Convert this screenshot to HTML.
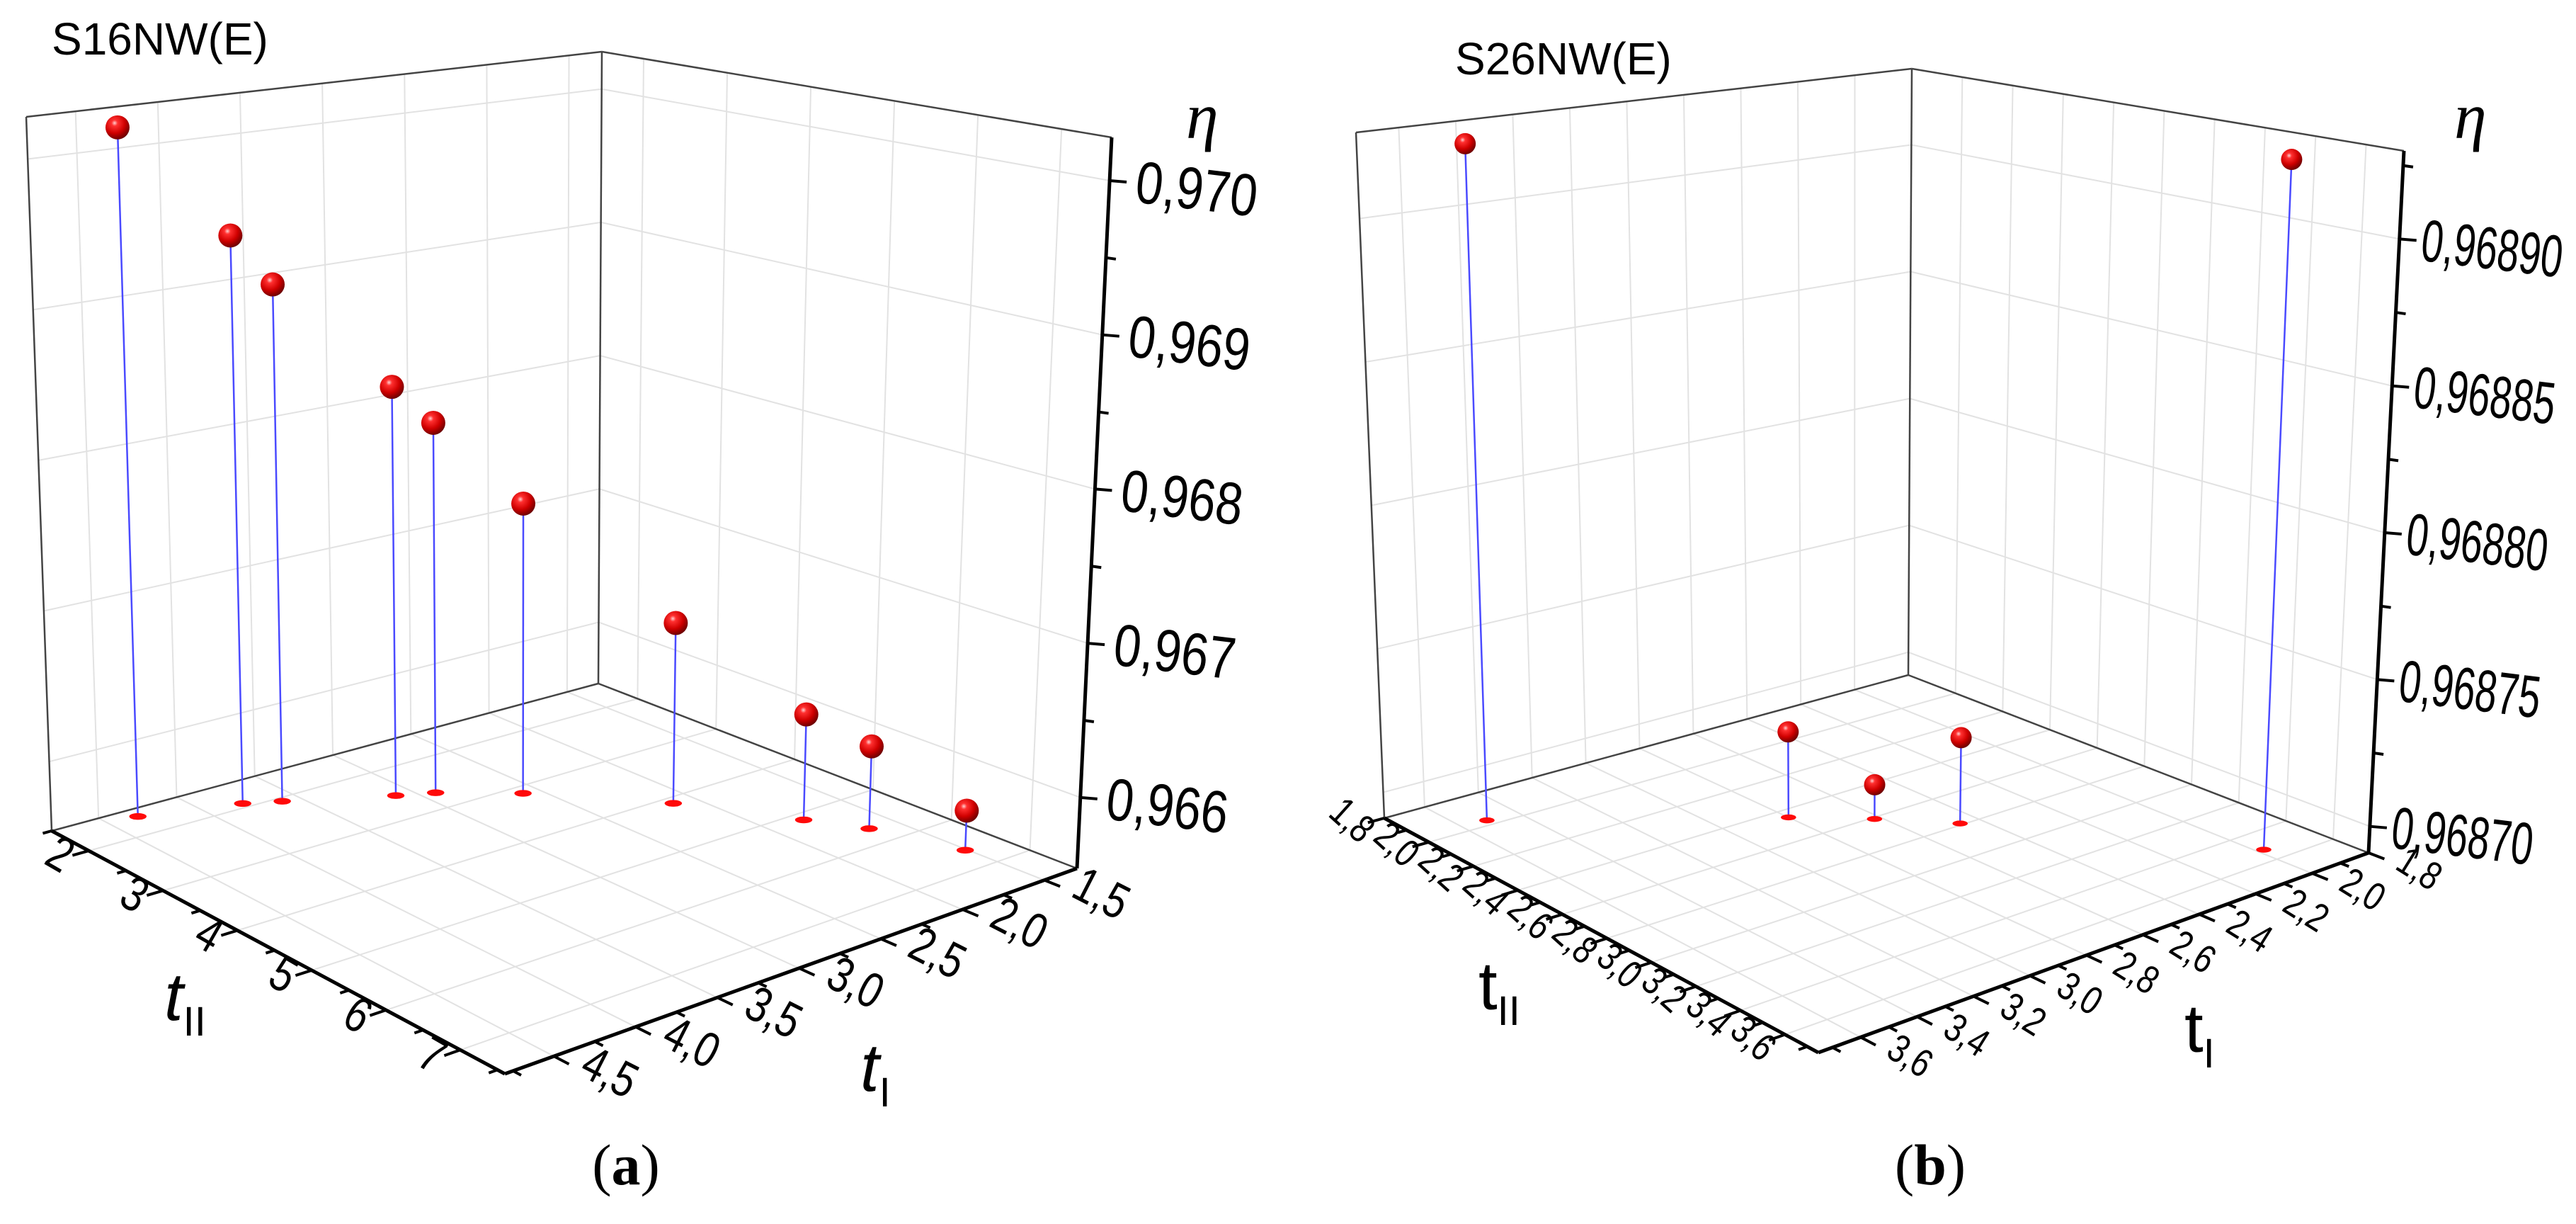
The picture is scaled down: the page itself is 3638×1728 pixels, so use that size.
<!DOCTYPE html>
<html><head><meta charset="utf-8"><style>
html,body{margin:0;padding:0;background:#fff;}
svg{display:block;}
text{font-family:"Liberation Sans",sans-serif;fill:#000;}
</style></head><body>
<svg id="fig" width="3638" height="1728" viewBox="0 0 3638 1728" xmlns="http://www.w3.org/2000/svg">
<defs>
<radialGradient id="ball" cx="0.38" cy="0.32" r="0.7">
<stop offset="0" stop-color="#ffd0d0"/><stop offset="0.18" stop-color="#ff3030"/><stop offset="0.6" stop-color="#d00000"/><stop offset="1" stop-color="#6a0000"/>
</radialGradient>
</defs>
<g id="chartA"></g>
<g id="chartB"></g>
<text x="73" y="77" font-size="64">S16NW(E)</text>
<text x="2055" y="105" font-size="64">S26NW(E)</text>
<text x="1675" y="195" font-size="92" font-style="italic" style="font-family:'Liberation Serif',serif">η</text>
<text x="3466" y="195" font-size="92" font-style="italic" style="font-family:'Liberation Serif',serif">η</text>
<text x="232" y="1440" font-size="96" font-style="italic">t<tspan font-size="58" font-style="normal" dy="22">II</tspan></text>
<text x="1215" y="1540" font-size="96" font-style="italic">t<tspan font-size="58" font-style="normal" dy="22">I</tspan></text>
<text x="2088" y="1425" font-size="96">t<tspan font-size="58" dy="22">II</tspan></text>
<text x="3085" y="1485" font-size="96">t<tspan font-size="58" dy="22">I</tspan></text>
<text x="884" y="1672" font-size="82" text-anchor="middle" style="font-family:'Liberation Serif',serif">(<tspan font-weight="bold">a</tspan>)</text>
<text x="2726" y="1672" font-size="82" text-anchor="middle" style="font-family:'Liberation Serif',serif">(<tspan font-weight="bold">b</tspan>)</text>
</svg>
<script>
// ---- data: chart (a) S16NW(E)
const aTII=[1.65,1.92,2.07,2.53,2.68,3.14,4.12,5.14,5.67,6.61];
const aTI=[4.32,3.78,3.60,3.10,2.92,2.59,2.12,1.80,1.65,1.51];
const aEta=[0.97017,0.96940,0.96906,0.96834,0.96808,0.96753,0.96677,0.96625,0.96609,0.96580];
const aTIITicks=[2,3,4,5,6,7];
const aTIITickLabels=["2","3","4","5","6","7"];
const aTITicks=[1.5,2.0,2.5,3.0,3.5,4.0,4.5];
const aTITickLabels=["1,5","2,0","2,5","3,0","3,5","4,0","4,5"];
const aEtaTicks=[0.966,0.967,0.968,0.969,0.970];
const aEtaTickLabels=["0,966","0,967","0,968","0,969","0,970"];
// ---- data: chart (b) S26NW(E)
const bTII=[1.97,2.45,2.61,2.79,3.52];
const bTI=[3.51,2.80,2.62,2.46,1.98];
const bEta=[0.968927,0.968721,0.968703,0.968721,0.968927];
const bTIITicks=[1.8,2.0,2.2,2.4,2.6,2.8,3.0,3.2,3.4,3.6];
const bTIITickLabels=["1,8","2,0","2,2","2,4","2,6","2,8","3,0","3,2","3,4","3,6"];
const bTITicks=[1.8,2.0,2.2,2.4,2.6,2.8,3.0,3.2,3.4,3.6];
const bTITickLabels=["1,8","2,0","2,2","2,4","2,6","2,8","3,0","3,2","3,4","3,6"];
const bEtaTicks=[0.96870,0.96875,0.96880,0.96885,0.96890];
const bEtaTickLabels=["0,96870","0,96875","0,96880","0,96885","0,96890"];

const NS="http://www.w3.org/2000/svg";
function mk(parent,tag,attrs){const e=document.createElementNS(NS,tag);for(const k in attrs)e.setAttribute(k,attrs[k]);parent.appendChild(e);return e;}
function bil(P00,P10,P01,P11,a,b){return[P00[0]*(1-a)*(1-b)+P10[0]*a*(1-b)+P01[0]*(1-a)*b+P11[0]*a*b,P00[1]*(1-a)*(1-b)+P10[1]*a*(1-b)+P01[1]*(1-a)*b+P11[1]*a*b];}

function drawChart(gEl,G,tii,ti,eta,iiT,iiL,iT,iL,zT,zL,iiMinor,iMinor,zMinor,iiGrid,iGrid,ballR,S){
  const A=v=>(v-G.ii[0])/(G.ii[1]-G.ii[0]);
  const Bf=v=>(v-G.i[0])/(G.i[1]-G.i[0]);
  const Z=v=>(v-G.z[0])/(G.z[1]-G.z[0]);
  function P(a,b,z){const f=bil(G.B,G.R,G.L,G.F,a,b),t=bil(G.Bt,G.Rt,G.Lt,G.Ft,a,b);return[f[0]+(t[0]-f[0])*z,f[1]+(t[1]-f[1])*z];}
  function line(p,q,st,w,name){const l=mk(gEl,'line',{x1:p[0],y1:p[1],x2:q[0],y2:q[1],stroke:st,'stroke-width':w});
    
    return l;}
  const gc='#e2e2e2';
  iiGrid.forEach(v=>{const a=A(v);line(P(a,0,0),P(a,1,0),gc,2,'floor-grid-line');line(P(a,0,0),P(a,0,1),gc,2,'wall-grid-line');});
  iGrid.forEach(v=>{const b=Bf(v);line(P(0,b,0),P(1,b,0),gc,2,'floor-grid-line');line(P(0,b,0),P(0,b,1),gc,2,'wall-grid-line');});
  zT.forEach(v=>{const z=Z(v);line(P(0,1,z),P(0,0,z),gc,2,'wall-grid-line');line(P(0,0,z),P(1,0,z),gc,2,'wall-grid-line');});
  const ec='#444';
  line(P(0,1,0),P(0,0,0),ec,2.5,'floor-back-edge');line(P(0,0,0),P(1,0,0),ec,2.5,'floor-back-edge');
  line(P(0,1,0),P(0,1,1),ec,2.5,'wall-edge');line(P(0,0,0),P(0,0,1),ec,2.5,'wall-edge');
  line(P(0,1,1),P(0,0,1),ec,2.5,'wall-top-edge');line(P(0,0,1),P(1,0,1),ec,2.5,'wall-top-edge');
  line(P(0,1,0),P(1,1,0),'#000',5,'t2-axis-line');
  line(P(1,1,0),P(1,0,0),'#000',5,'t1-axis-line');
  line(P(1,0,0),P(1,0,1),'#000',5,'eta-axis-line');
  function unit(p,q){const dx=q[0]-p[0],dy=q[1]-p[1],n=Math.hypot(dx,dy);return[dx/n,dy/n];}
  iiMinor.forEach(v=>{const a=A(v),p=P(a,1,0),d=unit(P(a,0,0),P(a,1,0));const major=iiT.some(t=>Math.abs(t-v)<1e-9);const L=major?24:13;
    line(p,[p[0]+d[0]*L,p[1]+d[1]*L],'#000',4,'t2-tick');});
  iiT.forEach((v,k)=>{const a=A(v),p=P(a,1,0),d=unit(P(a,0,0),P(a,1,0));const x=p[0]+d[0]*S.off,y=p[1]+d[1]*S.off+S.dy;
    const t=mk(gEl,'text',{x:0,y:0,'font-size':S.fs,'text-anchor':'end',transform:`translate(${x},${y}) rotate(${S.rot2}) scale(0.8,1)`});t.textContent=iiL[k];
    
    });
  iMinor.forEach(v=>{const b=Bf(v),p=P(1,b,0),d=unit(P(0,b,0),P(1,b,0));const major=iT.some(t=>Math.abs(t-v)<1e-9);const L=major?24:13;
    line(p,[p[0]+d[0]*L,p[1]+d[1]*L],'#000',4,'t1-tick');});
  iT.forEach((v,k)=>{const b=Bf(v),p=P(1,b,0),d=unit(P(0,b,0),P(1,b,0));const x=p[0]+d[0]*38,y=p[1]+d[1]*38+8;
    const t=mk(gEl,'text',{x:0,y:0,'font-size':S.fs,transform:`translate(${x},${y}) rotate(${S.rot1}) scale(0.8,1)`});t.textContent=iL[k];
    
    });
  zMinor.forEach(v=>{const z=Z(v);if(z<0||z>1)return;const p=P(1,0,z);const major=zT.some(t=>Math.abs(t-v)<1e-12);const L=major?24:14;
    line(p,[p[0]+L,p[1]+2],'#000',4,'eta-tick');});
  zT.forEach((v,k)=>{const p=P(1,0,Z(v));const x=p[0]+S.zoff,y=p[1]+30;
    const t=mk(gEl,'text',{x:0,y:0,'font-size':84,transform:`translate(${x},${y}) rotate(7) scale(${S.zsc},1)`});t.textContent=zL[k];
    
    });
  tii.forEach((v,k)=>{const a=A(v),b=Bf(ti[k]),z=Z(eta[k]);const base=P(a,b,0),top=P(a,b,z);
    line(base,top,'#4a4aff',2.5,'drop-line');
    const e=mk(gEl,'ellipse',{cx:base[0],cy:base[1],rx:ballR*0.72,ry:ballR*0.28,fill:'#ff0a0a'});
    
    
    const c=mk(gEl,'circle',{cx:top[0],cy:top[1],r:ballR,fill:'url(#ball)'});
    
    });
}
function range(s,e,st){const r=[];for(let v=s;v<=e+1e-9;v+=st)r.push(Math.round(v*1e6)/1e6);return r;}
function rangeZ(s,e,st){const r=[];for(let v=s;v<=e+st*1e-3;v+=st)r.push(Math.round(v*1e7)/1e7);return r;}
const GA={B:[845,965],R:[1521,1226],L:[73,1173],F:[713,1516],Bt:[850,73],Rt:[1570,194],Lt:[37,165],Ft:[713,350],ii:[1.5,7.6],i:[1.3,4.8],z:[0.96554,0.97028]};
const GB={B:[2695,953],R:[3345,1204],L:[1955,1155],F:[2568,1486],Bt:[2700,97],Rt:[3395,213],Lt:[1915,187],Ft:[2565,365],ii:[1.8,3.75],i:[1.8,3.75],z:[0.968691,0.96893]};
drawChart(document.getElementById('chartA'),GA,aTII,aTI,aEta,aTIITicks,aTIITickLabels,aTITicks,aTITickLabels,aEtaTicks,aEtaTickLabels,
  range(1.5,7.5,0.5),range(1.5,4.75,0.25),rangeZ(0.9655,0.9705,0.0005),[2,3,4,5,6,7],[1.5,2,2.5,3,3.5,4,4.5],17,
  {fs:70,off:40,dy:22,rot2:30,rot1:27,zoff:34,zsc:0.82});
drawChart(document.getElementById('chartB'),GB,bTII,bTI,bEta,bTIITicks,bTIITickLabels,bTITicks,bTITickLabels,bEtaTicks,bEtaTickLabels,
  range(1.8,3.7,0.1),range(1.8,3.7,0.1),rangeZ(0.968700,0.968925,0.000025),bTIITicks,bTITicks,15,
  {fs:56,off:36,dy:28,rot2:42,rot1:32,zoff:28,zsc:0.66});
</script>
</body></html>
